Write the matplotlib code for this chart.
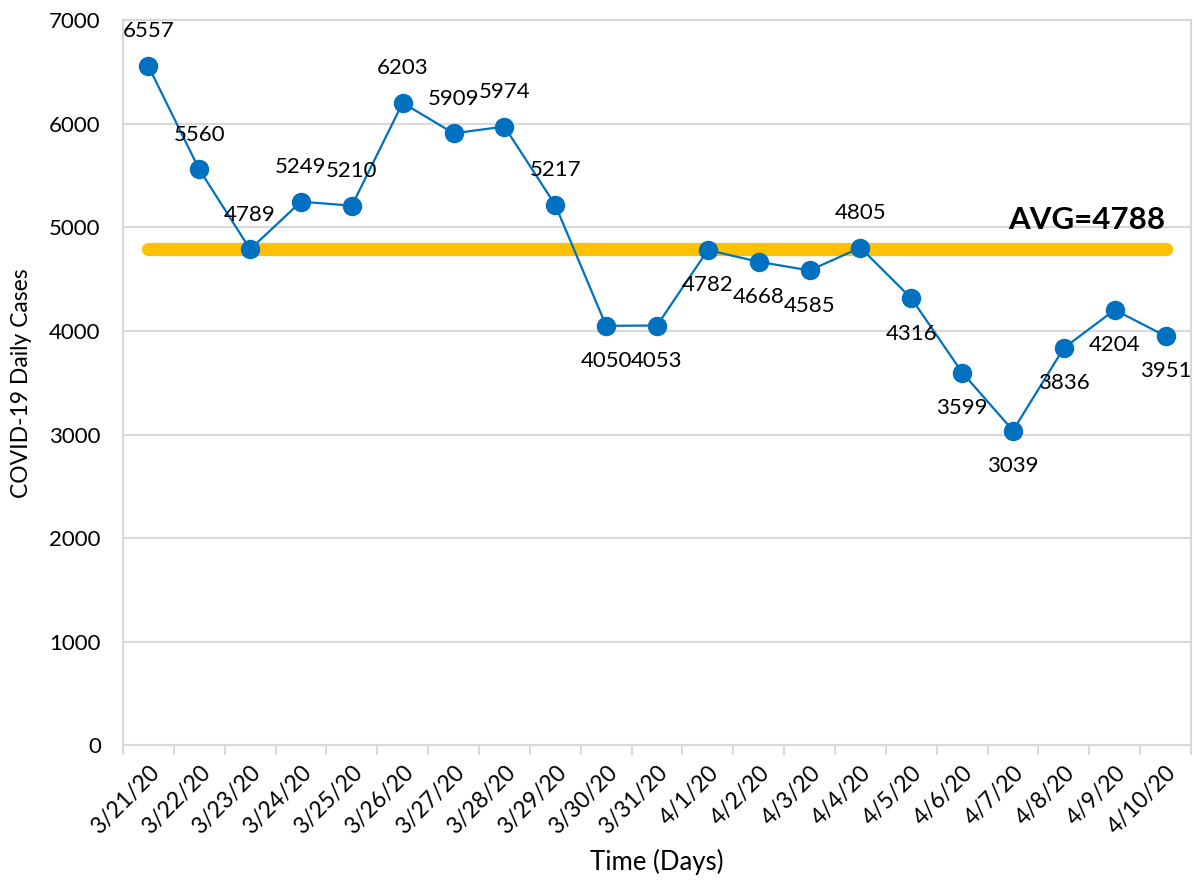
import matplotlib
matplotlib.use("Agg")
import matplotlib.pyplot as plt

plt.rcParams['font.family'] = ['Lato', 'DejaVu Sans']

dates = ["3/21/20", "3/22/20", "3/23/20", "3/24/20", "3/25/20", "3/26/20", "3/27/20",
         "3/28/20", "3/29/20", "3/30/20", "3/31/20", "4/1/20", "4/2/20", "4/3/20",
         "4/4/20", "4/5/20", "4/6/20", "4/7/20", "4/8/20", "4/9/20", "4/10/20"]
cases = [6557, 5560, 4789, 5249, 5210, 6203, 5909, 5974, 5217, 4050, 4053,
         4782, 4668, 4585, 4805, 4316, 3599, 3039, 3836, 4204, 3951]
avg_value = 4788
avg_label = "AVG=4788"

# data label placement per point: 'a' above, 'b' below
label_place = ['a', 'a', 'a', 'a', 'a', 'a', 'a', 'a', 'a', 'b', 'b',
               'b', 'b', 'b', 'a', 'b', 'b', 'b', 'b', 'b', 'b']

fig = plt.figure(figsize=(11.94, 8.84), dpi=100)
ax = fig.add_axes([0.103, 0.157, 0.8945, 0.820])

x = list(range(len(dates)))
ax.plot(x, [avg_value] * len(x), color='#FFC000', lw=9.5, solid_capstyle='round', zorder=2)
ax.plot(x, cases, color='#0070C0', lw=1.6, marker='o', markersize=13, zorder=3)

for xi, v, p in zip(x, cases, label_place):
    dy = 25 if p == 'a' else -25.5
    ax.annotate(str(v), (xi, v), xytext=(0, dy), textcoords='offset points',
                ha='center', va='center', fontsize=16, color='#000000', zorder=4)

ax.text(0.976, 5075, avg_label, transform=ax.get_yaxis_transform(), ha='right', va='center',
        fontsize=22.5, fontweight='bold', color='#000000')

ax.set_xlim(-0.5, len(dates) - 0.5)
ax.set_ylim(0, 7000)
ax.set_yticks(range(0, 7001, 1000))
ax.set_xticks([i - 0.5 for i in range(len(dates) + 1)], minor=False)
ax.set_xticklabels([])
ax.set_xticks(x, minor=True)
ax.set_xticklabels(dates, minor=True, rotation=45, ha='right', va='top', rotation_mode='anchor',
                   fontsize=16.5)
ax.tick_params(axis='x', which='major', length=7, color='#D9D9D9', width=1.5)
ax.tick_params(axis='x', which='minor', length=0, pad=12)
ax.tick_params(axis='y', length=0, labelsize=16, pad=16)
ax.grid(axis='y', color='#D9D9D9', lw=1.5)
ax.set_axisbelow(True)
for s in ax.spines.values():
    s.set_color('#D9D9D9')
    s.set_linewidth(1.5)

ax.set_ylabel("COVID-19 Daily Cases", fontsize=16.5, labelpad=12)
ax.set_xlabel("Time (Days)", fontsize=18.5, labelpad=8)

fig.savefig("out.png", dpi=100)
